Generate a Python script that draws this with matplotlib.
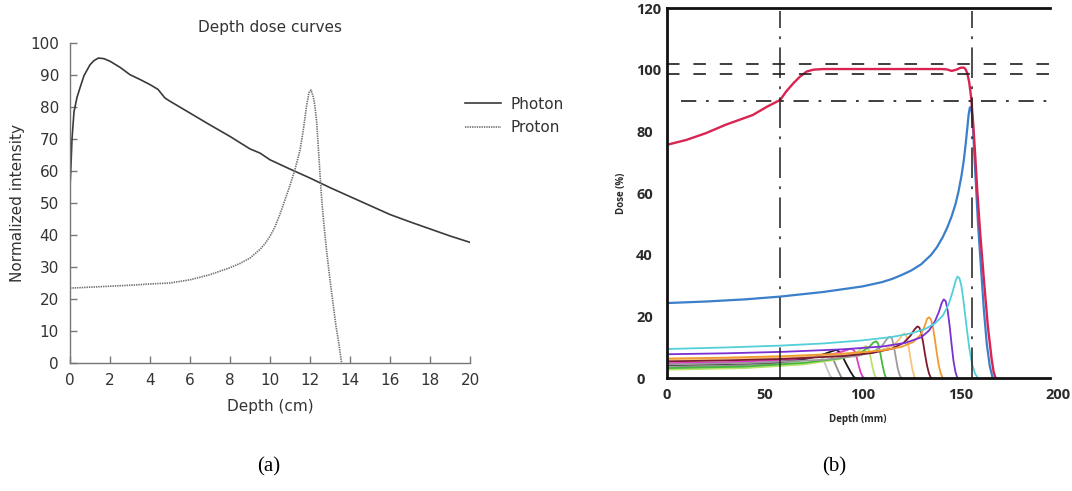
import matplotlib
matplotlib.use("Agg")
import matplotlib.pyplot as plt

plt.rcParams['lines.scale_dashes'] = False

# ---------------- Panel (a) data ----------------
photon_depth = [0, 0.05, 0.1, 0.2, 0.35, 0.5, 0.7, 1.0, 1.2, 1.42, 1.7, 2.0, 2.5, 3.0, 3.5, 4.0, 4.4,
                4.75, 5.0, 6.0, 7.0, 8.0, 9.0, 9.5, 10.0, 11.0, 12.0, 13.0, 14.0, 15.0, 16.0, 17.0,
                18.0, 19.0, 20.0]
photon_dose = [54.7, 62, 70, 78.5, 83, 86, 89.8, 93.2, 94.5, 95.3, 95.1, 94.3, 92.4, 90.1, 88.6, 87.0,
               85.5, 82.8, 81.8, 78.1, 74.4, 70.8, 66.9, 65.6, 63.5, 60.6, 57.8, 54.8, 52.0, 49.2,
               46.4, 44.1, 41.9, 39.7, 37.7]

proton_depth = [0, 1, 2, 3, 4, 5, 6, 7, 8, 8.5, 9, 9.5, 9.75, 10, 10.25, 10.5, 10.75, 11, 11.25,
                11.5, 11.67, 11.83, 11.95, 12.05, 12.17, 12.25, 12.33, 12.42, 12.5, 12.58, 12.7,
                12.83, 13.0, 13.17, 13.3, 13.42, 13.5, 13.58]
proton_dose = [23.4, 23.7, 24.0, 24.3, 24.7, 25.0, 26.0, 27.6, 29.8, 31.1, 32.8, 35.5, 37.3, 39.6,
               42.6, 46.5, 51.0, 55.5, 60.5, 66.5, 73.0, 80.5, 84.5, 85.3, 83.0, 80.0, 75.5, 67.0,
               59.0, 51.5, 43.0, 35.0, 26.0, 17.7, 11.5, 7.0, 3.5, 0.0]

a_xticks = list(range(0, 21, 2))
a_yticks = list(range(0, 101, 10))

# ---------------- Panel (b) data ----------------
sobp_depth = [0, 10, 20, 30, 44, 51, 58, 61, 64.7, 68, 71.5, 75, 80, 100, 120, 140, 143, 145.5, 148,
              150, 151.5, 152.5, 153.5, 154.5, 155.5, 156.5, 157.5, 158.5, 160, 162, 164, 166, 167, 168]
sobp_dose = [75.7, 77.3, 79.5, 82.2, 85.4, 88.0, 90.3, 93.0, 95.7, 97.8, 99.5, 100.1, 100.3, 100.3,
             100.3, 100.3, 100.2, 99.7, 100.1, 100.7, 100.8, 100.4, 99.0, 96.0, 91.0, 83.0, 73.0,
             62.0, 48.0, 32.0, 17.0, 6.0, 2.0, 0.0]

blue_depth = [0, 20, 40, 58, 80, 100, 110, 115, 120, 125, 130, 135, 138, 141, 143.5, 145.5, 147.5,
              149, 150.5, 151.7, 152.7, 153.5, 154.2, 154.8, 155.3, 155.8, 156.4, 157, 158, 159,
              160.5, 162, 163.5, 165, 166.5]
blue_dose = [24.4, 24.9, 25.6, 26.5, 28.0, 29.8, 31.2, 32.2, 33.5, 35.0, 37.0, 40.0, 42.5, 45.8, 49.2,
             52.5, 56.5, 60.5, 65.5, 70.5, 76.0, 81.0, 85.5, 87.8, 88.0, 86.5, 82.0, 74.0, 62.0,
             50.0, 36.0, 22.0, 11.0, 4.0, 0.0]

cyan_depth = [0, 30, 58, 80, 100, 115, 125, 132, 137, 141, 144, 146, 147.5, 148.5, 149.5, 150.5,
              151.5, 153, 154.5, 156, 157.5, 159]
cyan_dose = [9.5, 10.0, 10.6, 11.3, 12.3, 13.4, 14.6, 16.0, 17.8, 20.3, 24.0, 28.0, 31.5, 33.0, 32.5,
             30.0, 25.5, 17.5, 10.0, 4.5, 1.5, 0.0]

purple_depth = [0, 30, 60, 90, 110, 122, 130, 134, 137, 139, 140.5, 141.5, 142.5, 143.5, 144.5,
                145.5, 146.5, 147.5, 148.5]
purple_dose = [7.8, 8.1, 8.6, 9.4, 10.3, 11.5, 13.3, 15.5, 18.5, 21.5, 24.5, 25.6, 25.0, 22.0, 17.0,
               11.0, 5.5, 2.0, 0.0]

orange_depth = [0, 30, 60, 90, 110, 120, 126, 129.5, 131.5, 133, 134, 135, 136, 137, 138, 139, 140, 141]
orange_dose = [6.4, 6.7, 7.2, 8.0, 9.0, 10.2, 11.8, 14.0, 16.5, 19.3, 19.8, 19.0, 16.5, 12.5, 8.0,
               4.0, 1.5, 0.0]

maroon_depth = [0, 30, 60, 90, 105, 115, 121, 124.5, 126.5, 128, 129, 130, 131, 132, 133, 134, 135]
maroon_dose = [5.5, 5.8, 6.3, 7.2, 8.2, 9.6, 11.5, 13.8, 15.8, 16.8, 16.5, 14.8, 11.5, 7.5, 4.0, 1.5, 0.0]

tan_depth = [0, 40, 80, 100, 110, 116, 119, 120.5, 121.5, 122.5, 123.5, 124.5, 125.5, 126.5, 127]
tan_dose = [6.0, 6.4, 7.2, 8.0, 9.2, 10.8, 12.8, 14.2, 14.5, 13.6, 10.5, 6.5, 2.8, 0.5, 0.0]

gray_depth = [0, 40, 80, 98, 106, 110, 112.5, 114, 115, 116, 117, 118, 119, 120]
gray_dose = [4.5, 4.9, 6.0, 7.3, 8.8, 10.5, 12.8, 13.5, 13.0, 10.5, 6.8, 3.2, 1.0, 0.0]

green_depth = [0, 40, 70, 90, 99, 103.5, 105.5, 107, 108, 109, 110, 111, 112]
green_dose = [3.3, 3.8, 5.0, 6.6, 8.3, 10.2, 11.6, 12.0, 11.2, 8.5, 5.0, 2.0, 0.0]

lime_depth = [0, 40, 70, 88, 96, 100, 101.8, 103, 104, 105, 106, 107]
lime_dose = [2.8, 3.3, 4.5, 6.2, 8.0, 9.8, 10.5, 9.8, 7.2, 4.0, 1.3, 0.0]

magenta_depth = [0, 30, 60, 78, 88, 92.5, 94.5, 96, 97, 98, 99, 100, 101]
magenta_dose = [4.9, 5.2, 6.0, 7.0, 8.3, 9.3, 9.6, 8.8, 6.8, 4.3, 2.0, 0.6, 0.0]

black_depth = [0, 30, 55, 70, 79, 84, 86.5, 88, 90, 92, 94, 95.5, 96.5]
black_dose = [4.3, 4.6, 5.2, 6.2, 7.5, 8.7, 9.2, 8.7, 6.8, 4.3, 2.0, 0.5, 0.0]

dgray_depth = [0, 30, 55, 68, 76, 80.5, 82.5, 84, 85.5, 87, 88.5, 89.5]
dgray_dose = [3.6, 4.0, 4.8, 5.8, 7.0, 7.9, 8.1, 7.4, 5.5, 3.3, 1.2, 0.0]

lgray_depth = [0, 30, 55, 66, 73, 76.5, 78, 79.5, 81, 82.5, 83.5, 84.5]
lgray_dose = [3.0, 3.4, 4.3, 5.3, 6.5, 7.2, 7.3, 6.5, 4.5, 2.2, 0.8, 0.0]

b_xticks = [0, 50, 100, 150, 200]
b_yticks = [0, 20, 40, 60, 80, 100, 120]
dashed_levels = [101.9, 98.6]
dashdot_level = 90
vline_depths = [58, 156]

# ---------------- Figure ----------------
fig = plt.figure(figsize=(10.72, 4.91), dpi=100)

# ---- Panel (a) ----
axa = fig.add_axes([70 / 1072, 128 / 491, 400 / 1072, 320 / 491])
txt = '#333333'
spc = '#777777'
axa.plot(photon_depth, photon_dose, color='#3a3a3a', lw=1.2, label='Photon')
axa.plot(proton_depth, proton_dose, color='#707070', lw=1.2, linestyle=(0, (1.0, 0.7)), label='Proton')
axa.set_xlim(0, 20)
axa.set_ylim(0, 100)
axa.set_xticks(a_xticks)
axa.set_yticks(a_yticks)
for s in ['top', 'right']:
    axa.spines[s].set_visible(False)
for s in ['left', 'bottom']:
    axa.spines[s].set_color(spc)
    axa.spines[s].set_linewidth(1.0)
axa.tick_params(direction='in', length=5, width=1, color=spc, labelsize=11, labelcolor=txt)
axa.tick_params(axis='y', pad=8)
axa.tick_params(axis='x', pad=7)
axa.set_xlabel('Depth (cm)', fontsize=11, color=txt, va='center')
axa.xaxis.set_label_coords(0.5, -0.1375)
axa.set_ylabel('Normalized intensity', fontsize=11, color=txt, va='center')
axa.yaxis.set_label_coords(-0.13, 0.5)
axa.text(0.5, 1.047, 'Depth dose curves', transform=axa.transAxes, ha='center', va='center',
         fontsize=11, color=txt)
leg = axa.legend(loc='upper left', bbox_to_anchor=(457 / 1072, 1 - 89 / 491),
                 bbox_transform=fig.transFigure, frameon=False, fontsize=11,
                 handlelength=2.35, handletextpad=0.65, borderpad=0, labelspacing=0.55)
for t in leg.get_texts():
    t.set_color(txt)

# ---- Panel (b) ----
axb = fig.add_axes([666.7 / 1072, (491 - 378.3) / 491, 391.6 / 1072, 370 / 491])
thin = 1.3
small_curves = [
    (lgray_depth, lgray_dose, '#c4c4c4'),
    (dgray_depth, dgray_dose, '#8e8e8e'),
    (black_depth, black_dose, '#1a1a1a'),
    (magenta_depth, magenta_dose, '#e03cc8'),
    (lime_depth, lime_dose, '#b8e26c'),
    (green_depth, green_dose, '#45b93c'),
    (gray_depth, gray_dose, '#9c9c9c'),
    (tan_depth, tan_dose, '#f3c57c'),
    (maroon_depth, maroon_dose, '#7c1a30'),
    (orange_depth, orange_dose, '#f09a30'),
    (purple_depth, purple_dose, '#7a30d2'),
    (cyan_depth, cyan_dose, '#52cfd8'),
]
for d, v, c in small_curves:
    axb.plot(d, v, color=c, lw=thin)
axb.plot(blue_depth, blue_dose, color='#3b7fcb', lw=1.6)
axb.plot(sobp_depth, sobp_dose, color='#d82450', lw=1.7)

lc = '#1e1e1e'
for lvl in dashed_levels:
    axb.hlines(lvl, 0, 197, colors=lc, lw=1.2, linestyles=[(0, (9, 10))])
axb.hlines(dashdot_level, 7.5, 197, colors=lc, lw=1.2, linestyles=[(0, (11, 7, 2, 7))])
for xv in vline_depths:
    axb.vlines(xv, 0, 119, colors=lc, lw=1.1, linestyles=[(0, (22, 6, 2, 6))])

axb.set_xlim(0, 200)
axb.set_ylim(0, 120)
axb.set_xticks(b_xticks)
axb.set_yticks(b_yticks)
axb.spines['right'].set_visible(False)
for s in ['left', 'bottom', 'top']:
    axb.spines[s].set_color('#111111')
    axb.spines[s].set_linewidth(2.0)
axb.spines['bottom'].set_bounds(0, 196)
axb.spines['top'].set_bounds(0, 196)
axb.tick_params(length=0, labelsize=10.5, labelcolor='#2a2a2a')
axb.tick_params(axis='y', pad=22)
axb.tick_params(axis='x', pad=7)
for lab in axb.get_yticklabels() + axb.get_xticklabels():
    lab.set_family('Open Sans')
    lab.set_weight('bold')
for lab in axb.get_yticklabels():
    lab.set_ha('left')
axb.set_xlabel('Depth (mm)', fontsize=7, family='Open Sans', weight='bold', color='#2a2a2a',
               va='center')
axb.xaxis.set_label_coords(0.488, -0.112)
axb.set_ylabel('Dose (%)', fontsize=7, family='Open Sans', weight='bold', color='#2a2a2a',
               va='center')
axb.yaxis.set_label_coords(-0.115, 0.5)

# ---- captions ----
fig.text(269 / 1072, 1 - 467 / 491, '(a)', family='Liberation Serif', fontsize=15,
         ha='center', va='center')
fig.text(834 / 1072, 1 - 467 / 491, '(b)', family='Liberation Serif', fontsize=15,
         ha='center', va='center')

fig.savefig('out.png', dpi=100)
